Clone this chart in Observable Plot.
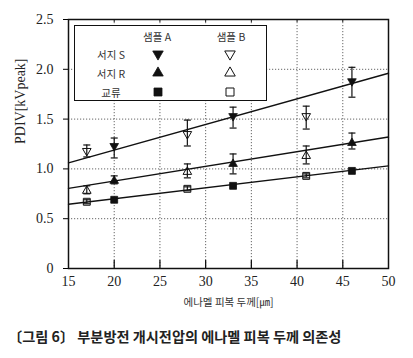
<!DOCTYPE html>
<html><head><meta charset="utf-8">
<script src="https://cdn.jsdelivr.net/npm/d3@7"></script>
<script src="https://cdn.jsdelivr.net/npm/@observablehq/plot@0.6"></script>
<style>
body{margin:0;background:#fff;}
#wrap{position:relative;width:413px;height:358px;overflow:hidden;}
#legend{position:absolute;left:74px;top:25px;width:191px;height:74px;border:1.5px solid #111;background:#fff;font-family:"Noto Sans CJK KR",sans-serif;font-size:10.5px;color:#333;}
#legend span{position:absolute;transform:translate(-50%,-50%);white-space:nowrap;}
#legend svg{position:absolute;transform:translate(-50%,-50%);overflow:visible;}
#caption{position:absolute;left:8px;top:326px;font-family:"Noto Sans CJK KR",sans-serif;font-weight:bold;font-size:14.2px;color:#222;white-space:nowrap;}
</style></head><body><div id="wrap"><div id="chart"></div><div id="legend"></div><div id="caption"></div></div>
<script>
// ---- data ----
const thickness = [17, 20, 28, 33, 41, 46];
const sampleOf  = ["B", "A", "B", "A", "B", "A"];
const surgeS     = [1.18, 1.23, 1.35, 1.53, 1.53, 1.88];
const surgeSLow  = [1.12, 1.11, 1.23, 1.41, 1.40, 1.72];
const surgeSHigh = [1.24, 1.31, 1.49, 1.62, 1.63, 2.02];
const surgeR     = [0.78, 0.88, 0.97, 1.05, 1.13, 1.26];
const surgeRLow  = [0.75, 0.85, 0.91, 0.95, 1.05, 1.20];
const surgeRHigh = [0.83, 0.93, 1.05, 1.15, 1.23, 1.36];
const acV        = [0.67, 0.69, 0.80, 0.83, 0.93, 0.98];
const acLow      = [0.65, 0.69, 0.78, 0.83, 0.91, 0.98];
const acHigh     = [0.69, 0.69, 0.82, 0.83, 0.95, 0.98];
const fitX  = [15, 50];
const fitS  = [1.06, 1.96];
const fitR  = [0.805, 1.32];
const fitAC = [0.645, 1.03];
const xTicks = [15, 20, 25, 30, 35, 40, 45, 50];
const yTicks = [0, 0.5, 1.0, 1.5, 2.0, 2.5];
const seriesNames = ["서지 S", "서지 R", "교류"];
const sampleNames = ["샘플 A", "샘플 B"];
const xLabel = "에나멜 피복 두께[㎛]";
const yLabel = "PDIV[kVpeak]";
const captionText = "〔그림 6〕 부분방전 개시전압의 에나멜 피복 두께 의존성";

// ---- build tables ----
const seriesDefs = [
  {key: "S", v: surgeS, lo: surgeSLow, hi: surgeSHigh, fit: fitS, symbol: "triangle", rotate: 180, r: 3.2},
  {key: "R", v: surgeR, lo: surgeRLow, hi: surgeRHigh, fit: fitR, symbol: "triangle", rotate: 0, r: 3.2},
  {key: "AC", v: acV, lo: acLow, hi: acHigh, fit: fitAC, symbol: "square", rotate: 0, r: 3.9}
];
const rows = [];
for (const s of seriesDefs) thickness.forEach((x, i) => rows.push({series: s.key, sample: sampleOf[i], x, y: s.v[i], lo: s.lo[i], hi: s.hi[i]}));
const errRows = rows.filter(d => d.hi > d.lo);
const fitRows = [];
for (const s of seriesDefs) fitX.forEach((x, i) => fitRows.push({series: s.key, x, y: s.fit[i]}));

const capSymbol = {draw(ctx) { ctx.moveTo(-3.5, 0); ctx.lineTo(3.5, 0); }};
const serif = "'Liberation Serif','DejaVu Serif',serif";

const marks = [
  Plot.gridX(xTicks.slice(1, -1), {stroke: "#666", strokeOpacity: 1, strokeDasharray: "1.2,1.8", strokeWidth: 1}),
  Plot.gridY(yTicks.slice(1, -1), {stroke: "#666", strokeOpacity: 1, strokeDasharray: "1.2,1.8", strokeWidth: 1}),
  Plot.ruleX(xTicks.slice(1, -1), {y1: 0, y2: 0.08, stroke: "#111", strokeWidth: 1.3}),
  Plot.ruleX(xTicks.slice(1, -1), {y1: 2.5, y2: 2.47, stroke: "#111", strokeWidth: 1}),
  Plot.line(fitRows, {x: "x", y: "y", z: "series", stroke: "#111", strokeWidth: 1.4}),
];
for (const s of seriesDefs) {
  marks.push(Plot.dot(rows.filter(d => d.series === s.key && d.sample === "A"), {x: "x", y: "y", symbol: s.symbol, rotate: s.rotate, r: s.r, fill: "#111", stroke: "#111", strokeWidth: 0.8}));
  marks.push(Plot.dot(rows.filter(d => d.series === s.key && d.sample === "B"), {x: "x", y: "y", symbol: s.symbol, rotate: s.rotate, r: s.r, fill: "none", stroke: "#111", strokeWidth: 1}));
}
marks.push(
  Plot.ruleX(errRows, {x: "x", y1: "lo", y2: "hi", stroke: "#111", strokeWidth: 1.2}),
  Plot.dot(errRows, {x: "x", y: "lo", symbol: capSymbol, stroke: "#111", strokeWidth: 1.2, r: 1}),
  Plot.dot(errRows, {x: "x", y: "hi", symbol: capSymbol, stroke: "#111", strokeWidth: 1.2, r: 1}),
  Plot.axisX(xTicks, {tickSize: 0, tickPadding: 8, fontSize: 14, fontFamily: serif, fill: "#222", label: null, tickFormat: d => String(d)}),
  Plot.axisY(yTicks, {tickSize: 5, tickPadding: 10, fontSize: 14, fontFamily: serif, fill: "#222", label: null, tickFormat: d => d === 0 ? "0" : d.toFixed(1)}),
  Plot.text([xLabel], {frameAnchor: "bottom", dy: 37, text: d => d, fontSize: 10.5, fontFamily: "'Noto Sans CJK KR',sans-serif", fill: "#333"}),
  Plot.text([yLabel], {frameAnchor: "left", dx: -48, rotate: -90, text: d => d, fontSize: 14, fontFamily: serif, fill: "#222"}),
  Plot.frame({stroke: "#111", strokeWidth: 1.5})
);

const chart = Plot.plot({
  width: 413, height: 320,
  marginLeft: 68, marginRight: 25, marginTop: 19, marginBottom: 52,
  x: {domain: [15, 50]},
  y: {domain: [0, 2.5]},
  style: {background: "transparent", overflow: "visible"},
  marks
});
document.getElementById("chart").append(chart);

// ---- legend (overlay) ----
const legend = document.getElementById("legend");
function addText(t, x, y) { const s = document.createElement("span"); s.textContent = t; s.style.left = x + "px"; s.style.top = y + "px"; legend.append(s); }
function addSym(def, filled, x, y) {
  const ns = "http://www.w3.org/2000/svg";
  const svg = document.createElementNS(ns, "svg");
  svg.setAttribute("width", 12); svg.setAttribute("height", 12);
  svg.style.left = x + "px"; svg.style.top = y + "px";
  const p = document.createElementNS(ns, "path");
  const sym = def.symbol === "square" ? d3.symbolSquare : d3.symbolTriangle;
  const size = def.symbol === "square" ? 64 : 48;
  p.setAttribute("d", d3.symbol(sym, size)());
  p.setAttribute("transform", `translate(6,6) rotate(${def.rotate})`);
  p.setAttribute("fill", filled ? "#111" : "none");
  p.setAttribute("stroke", "#111");
  p.setAttribute("stroke-width", filled ? 0.8 : 1);
  svg.append(p);
  legend.append(svg);
}
addText(sampleNames[0], 82, 10);
addText(sampleNames[1], 156, 10);
seriesNames.forEach((n, i) => {
  const y = 28 + i * 19;
  addText(n, 36, y);
  addSym(seriesDefs[i], true, 83, y);
  addSym(seriesDefs[i], false, 155, y);
});
document.getElementById("caption").textContent = captionText;
</script>
</body></html>
